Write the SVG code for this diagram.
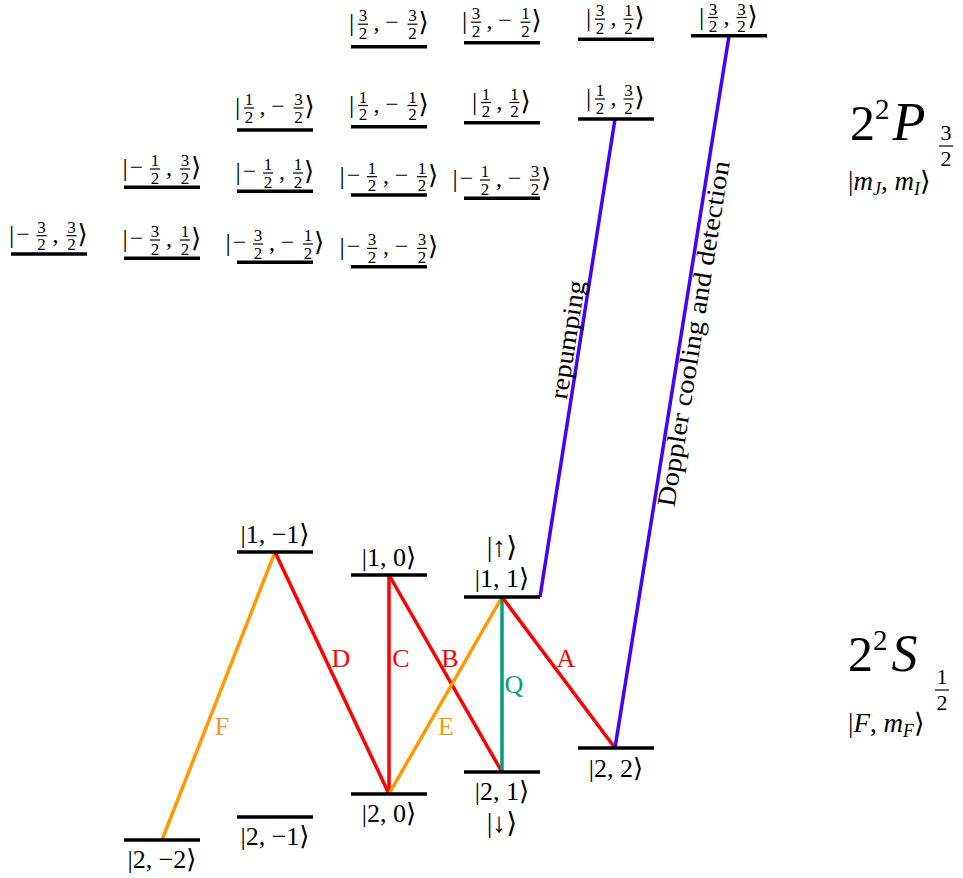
<svg xmlns="http://www.w3.org/2000/svg" width="963" height="878" viewBox="0 0 963 878">
<style>
text{font-family:"Liberation Serif","DejaVu Serif",serif;fill:#000}
.dl{font-family:"Liberation Serif","DejaVu Serif",serif;font-size:26px;text-anchor:middle}
.dr{font-family:"Liberation Serif","DejaVu Serif",serif;font-size:26px;text-anchor:start}
.m{font-family:"Liberation Serif","DejaVu Serif",serif;font-size:24px;text-anchor:middle}
.n{font-family:"Liberation Serif","DejaVu Serif",serif;font-size:17px;text-anchor:middle}
.k{font-family:"Liberation Serif","DejaVu Serif",serif;font-size:26px;text-anchor:middle}
.fb{stroke:#000;stroke-width:1.2}
.lvl{stroke:#000;stroke-width:3.5}
.tr{stroke-width:3.5;fill:none}
.red{stroke:#ff0000}.org{stroke:#ff9900}.teal{stroke:#00a07a}.blu{stroke:#4400ff}
.tl{font-family:"Liberation Serif","DejaVu Serif",serif;font-size:26px;text-anchor:middle}
.i{font-style:italic}
</style>
<rect width="963" height="878" fill="#fff"/>

<g id="connectors">
<line class="tr org" x1="162" y1="840" x2="275" y2="552"/>
<line class="tr red" x1="275" y1="552" x2="389" y2="794"/>
<line class="tr red" x1="389" y1="575" x2="389" y2="794"/>
<line class="tr red" x1="389" y1="575" x2="502" y2="772"/>
<line class="tr org" x1="502" y1="597" x2="389" y2="794"/>
<line class="tr teal" x1="502" y1="597" x2="502" y2="772"/>
<line class="tr red" x1="502" y1="597" x2="615" y2="748"/>
<line class="tr blu" x1="540" y1="597" x2="615" y2="119"/>
<line class="tr blu" x1="615" y1="748" x2="729" y2="36"/>
<text class="tl" x="222" y="735" style="fill:#ff9900">F</text>
<text class="tl" x="341" y="667" style="fill:#ff0000">D</text>
<text class="tl" x="401" y="667" style="fill:#ff0000">C</text>
<text class="tl" x="450" y="667" style="fill:#ff0000">B</text>
<text class="tl" x="446" y="735" style="fill:#ff9900">E</text>
<text class="tl" x="514" y="693" style="fill:#00a07a">Q</text>
<text class="tl" x="566" y="667" style="fill:#ff0000">A</text>
<text transform="translate(576,341) rotate(-81.2)" style="font-size:26px;text-anchor:middle" textLength="120" lengthAdjust="spacingAndGlyphs">repumping</text>
<text transform="translate(702,335) rotate(-80.9)" style="font-size:26px;text-anchor:middle" textLength="350" lengthAdjust="spacingAndGlyphs">Doppler cooling and detection</text>
</g>

<!-- P manifold m_J = 3/2 -->
<g id="P_3h_m3h"><line class="lvl" x1="351" y1="46.7" x2="427" y2="46.7"/>
<g transform="translate(349.5,24.2)"><text class="dl" x="2" y="7">|</text><text class="n" x="13.5" y="-3">3</text><line class="fb" x1="8.5" y1="0" x2="18.5" y2="0"/><text class="n" x="13.5" y="14.5">2</text><text class="m" x="27" y="6">,</text><text class="m" x="42.5" y="6">−</text><text class="n" x="63" y="-3">3</text><line class="fb" x1="58" y1="0" x2="68" y2="0"/><text class="n" x="63" y="14.5">2</text><text class="dr" x="69" y="7">⟩</text></g></g>
<g id="P_3h_m1h"><line class="lvl" x1="464" y1="42.7" x2="540" y2="42.7"/>
<g transform="translate(462.5,22.2)"><text class="dl" x="2" y="7">|</text><text class="n" x="13.5" y="-3">3</text><line class="fb" x1="8.5" y1="0" x2="18.5" y2="0"/><text class="n" x="13.5" y="14.5">2</text><text class="m" x="27" y="6">,</text><text class="m" x="42.5" y="6">−</text><text class="n" x="63" y="-3">1</text><line class="fb" x1="58" y1="0" x2="68" y2="0"/><text class="n" x="63" y="14.5">2</text><text class="dr" x="69" y="7">⟩</text></g></g>
<g id="P_3h_1h"><line class="lvl" x1="578" y1="39.3" x2="654" y2="39.3"/>
<g transform="translate(586.5,19.2)"><text class="dl" x="2" y="7">|</text><text class="n" x="13.5" y="-3">3</text><line class="fb" x1="8.5" y1="0" x2="18.5" y2="0"/><text class="n" x="13.5" y="14.5">2</text><text class="m" x="27" y="6">,</text><text class="n" x="42" y="-3">1</text><line class="fb" x1="37" y1="0" x2="47" y2="0"/><text class="n" x="42" y="14.5">2</text><text class="dr" x="48" y="7">⟩</text></g></g>
<g id="P_3h_3h"><line class="lvl" x1="691" y1="35.7" x2="767" y2="35.7"/>
<g transform="translate(699.5,17.5)"><text class="dl" x="2" y="7">|</text><text class="n" x="13.5" y="-3">3</text><line class="fb" x1="8.5" y1="0" x2="18.5" y2="0"/><text class="n" x="13.5" y="14.5">2</text><text class="m" x="27" y="6">,</text><text class="n" x="42" y="-3">3</text><line class="fb" x1="37" y1="0" x2="47" y2="0"/><text class="n" x="42" y="14.5">2</text><text class="dr" x="48" y="7">⟩</text></g></g>

<!-- m_J = 1/2 -->
<g id="P_1h_m3h"><line class="lvl" x1="237" y1="130" x2="313" y2="130"/>
<g transform="translate(235.5,108)"><text class="dl" x="2" y="7">|</text><text class="n" x="13.5" y="-3">1</text><line class="fb" x1="8.5" y1="0" x2="18.5" y2="0"/><text class="n" x="13.5" y="14.5">2</text><text class="m" x="27" y="6">,</text><text class="m" x="42.5" y="6">−</text><text class="n" x="63" y="-3">3</text><line class="fb" x1="58" y1="0" x2="68" y2="0"/><text class="n" x="63" y="14.5">2</text><text class="dr" x="69" y="7">⟩</text></g></g>
<g id="P_1h_m1h"><line class="lvl" x1="351" y1="126.7" x2="427" y2="126.7"/>
<g transform="translate(349.5,105.5)"><text class="dl" x="2" y="7">|</text><text class="n" x="13.5" y="-3">1</text><line class="fb" x1="8.5" y1="0" x2="18.5" y2="0"/><text class="n" x="13.5" y="14.5">2</text><text class="m" x="27" y="6">,</text><text class="m" x="42.5" y="6">−</text><text class="n" x="63" y="-3">1</text><line class="fb" x1="58" y1="0" x2="68" y2="0"/><text class="n" x="63" y="14.5">2</text><text class="dr" x="69" y="7">⟩</text></g></g>
<g id="P_1h_1h"><line class="lvl" x1="464" y1="122.7" x2="540" y2="122.7"/>
<g transform="translate(472.5,102.5)"><text class="dl" x="2" y="7">|</text><text class="n" x="13.5" y="-3">1</text><line class="fb" x1="8.5" y1="0" x2="18.5" y2="0"/><text class="n" x="13.5" y="14.5">2</text><text class="m" x="27" y="6">,</text><text class="n" x="42" y="-3">1</text><line class="fb" x1="37" y1="0" x2="47" y2="0"/><text class="n" x="42" y="14.5">2</text><text class="dr" x="48" y="7">⟩</text></g></g>
<g id="P_1h_3h"><line class="lvl" x1="578" y1="119" x2="654" y2="119"/>
<g transform="translate(586.5,99)"><text class="dl" x="2" y="7">|</text><text class="n" x="13.5" y="-3">1</text><line class="fb" x1="8.5" y1="0" x2="18.5" y2="0"/><text class="n" x="13.5" y="14.5">2</text><text class="m" x="27" y="6">,</text><text class="n" x="42" y="-3">3</text><line class="fb" x1="37" y1="0" x2="47" y2="0"/><text class="n" x="42" y="14.5">2</text><text class="dr" x="48" y="7">⟩</text></g></g>

<!-- m_J = -1/2 -->
<g id="P_m1h_3h"><line class="lvl" x1="124" y1="187.3" x2="200" y2="187.3"/>
<g transform="translate(123,169)"><text class="dl" x="2" y="7">|</text><text class="m" x="13.5" y="6">−</text><text class="n" x="32" y="-3">1</text><line class="fb" x1="27" y1="0" x2="37" y2="0"/><text class="n" x="32" y="14.5">2</text><text class="m" x="46" y="6">,</text><text class="n" x="62" y="-3">3</text><line class="fb" x1="57" y1="0" x2="67" y2="0"/><text class="n" x="62" y="14.5">2</text><text class="dr" x="68" y="7">⟩</text></g></g>
<g id="P_m1h_1h"><line class="lvl" x1="237" y1="191.3" x2="313" y2="191.3"/>
<g transform="translate(236,173)"><text class="dl" x="2" y="7">|</text><text class="m" x="13.5" y="6">−</text><text class="n" x="32" y="-3">1</text><line class="fb" x1="27" y1="0" x2="37" y2="0"/><text class="n" x="32" y="14.5">2</text><text class="m" x="46" y="6">,</text><text class="n" x="62" y="-3">1</text><line class="fb" x1="57" y1="0" x2="67" y2="0"/><text class="n" x="62" y="14.5">2</text><text class="dr" x="68" y="7">⟩</text></g></g>
<g id="P_m1h_m1h"><line class="lvl" x1="351" y1="195" x2="427" y2="195"/>
<g transform="translate(340,176.7)"><text class="dl" x="2" y="7">|</text><text class="m" x="13.5" y="6">−</text><text class="n" x="32" y="-3">1</text><line class="fb" x1="27" y1="0" x2="37" y2="0"/><text class="n" x="32" y="14.5">2</text><text class="m" x="46" y="6">,</text><text class="m" x="61.5" y="6">−</text><text class="n" x="82" y="-3">1</text><line class="fb" x1="77" y1="0" x2="87" y2="0"/><text class="n" x="82" y="14.5">2</text><text class="dr" x="88" y="7">⟩</text></g></g>
<g id="P_m1h_m3h"><line class="lvl" x1="464" y1="198.3" x2="540" y2="198.3"/>
<g transform="translate(453,180)"><text class="dl" x="2" y="7">|</text><text class="m" x="13.5" y="6">−</text><text class="n" x="32" y="-3">1</text><line class="fb" x1="27" y1="0" x2="37" y2="0"/><text class="n" x="32" y="14.5">2</text><text class="m" x="46" y="6">,</text><text class="m" x="61.5" y="6">−</text><text class="n" x="82" y="-3">3</text><line class="fb" x1="77" y1="0" x2="87" y2="0"/><text class="n" x="82" y="14.5">2</text><text class="dr" x="88" y="7">⟩</text></g></g>

<!-- m_J = -3/2 -->
<g id="P_m3h_3h"><line class="lvl" x1="11" y1="254" x2="87" y2="254"/>
<g transform="translate(9.5,235.7)"><text class="dl" x="2" y="7">|</text><text class="m" x="13.5" y="6">−</text><text class="n" x="32" y="-3">3</text><line class="fb" x1="27" y1="0" x2="37" y2="0"/><text class="n" x="32" y="14.5">2</text><text class="m" x="46" y="6">,</text><text class="n" x="62" y="-3">3</text><line class="fb" x1="57" y1="0" x2="67" y2="0"/><text class="n" x="62" y="14.5">2</text><text class="dr" x="68" y="7">⟩</text></g></g>
<g id="P_m3h_1h"><line class="lvl" x1="124" y1="258.3" x2="200" y2="258.3"/>
<g transform="translate(123,240)"><text class="dl" x="2" y="7">|</text><text class="m" x="13.5" y="6">−</text><text class="n" x="32" y="-3">3</text><line class="fb" x1="27" y1="0" x2="37" y2="0"/><text class="n" x="32" y="14.5">2</text><text class="m" x="46" y="6">,</text><text class="n" x="62" y="-3">1</text><line class="fb" x1="57" y1="0" x2="67" y2="0"/><text class="n" x="62" y="14.5">2</text><text class="dr" x="68" y="7">⟩</text></g></g>
<g id="P_m3h_m1h"><line class="lvl" x1="237" y1="262.3" x2="313" y2="262.3"/>
<g transform="translate(226,244)"><text class="dl" x="2" y="7">|</text><text class="m" x="13.5" y="6">−</text><text class="n" x="32" y="-3">3</text><line class="fb" x1="27" y1="0" x2="37" y2="0"/><text class="n" x="32" y="14.5">2</text><text class="m" x="46" y="6">,</text><text class="m" x="61.5" y="6">−</text><text class="n" x="82" y="-3">1</text><line class="fb" x1="77" y1="0" x2="87" y2="0"/><text class="n" x="82" y="14.5">2</text><text class="dr" x="88" y="7">⟩</text></g></g>
<g id="P_m3h_m3h"><line class="lvl" x1="351" y1="266.7" x2="427" y2="266.7"/>
<g transform="translate(340,248.4)"><text class="dl" x="2" y="7">|</text><text class="m" x="13.5" y="6">−</text><text class="n" x="32" y="-3">3</text><line class="fb" x1="27" y1="0" x2="37" y2="0"/><text class="n" x="32" y="14.5">2</text><text class="m" x="46" y="6">,</text><text class="m" x="61.5" y="6">−</text><text class="n" x="82" y="-3">3</text><line class="fb" x1="77" y1="0" x2="87" y2="0"/><text class="n" x="82" y="14.5">2</text><text class="dr" x="88" y="7">⟩</text></g></g>

<!-- S manifold -->
<g id="S_1_m1"><line class="lvl" x1="237" y1="552" x2="313" y2="552"/><text class="k" x="275" y="543">|1, −1⟩</text></g>
<g id="S_1_0"><line class="lvl" x1="351" y1="575" x2="427" y2="575"/><text class="k" x="389" y="566">|1, 0⟩</text></g>
<g id="S_1_1"><line class="lvl" x1="464" y1="597" x2="540" y2="597"/><text class="k" x="502" y="587">|1, 1⟩</text><text class="k" x="502" y="556" style="font-size:28px">|↑⟩</text></g>
<g id="S_2_m2"><line class="lvl" x1="124" y1="840" x2="200" y2="840"/><text class="k" x="162" y="868">|2, −2⟩</text></g>
<g id="S_2_m1"><line class="lvl" x1="237" y1="817" x2="313" y2="817"/><text class="k" x="275" y="845">|2, −1⟩</text></g>
<g id="S_2_0"><line class="lvl" x1="351" y1="794" x2="427" y2="794"/><text class="k" x="389" y="822">|2, 0⟩</text></g>
<g id="S_2_1"><line class="lvl" x1="464" y1="772" x2="540" y2="772"/><text class="k" x="502" y="800">|2, 1⟩</text><text class="k" x="502" y="832" style="font-size:28px">|↓⟩</text></g>
<g id="S_2_2"><line class="lvl" x1="578" y1="748" x2="654" y2="748"/><text class="k" x="616" y="777">|2, 2⟩</text></g>

<!-- manifold labels -->
<g id="label_P">
<text x="850" y="140" style="font-size:50px">2<tspan dy="-21" style="font-size:29px">2</tspan><tspan dy="21" dx="3" class="i" style="font-size:54px">P</tspan></text>
<text class="n" x="946" y="140" style="font-size:22px">3</text><line class="fb" x1="939" y1="146" x2="953" y2="146"/><text class="n" x="946" y="166" style="font-size:22px">2</text>
<text x="848" y="190" style="font-size:27px">|<tspan class="i">m</tspan><tspan class="i" dy="5" style="font-size:18px">J</tspan><tspan dy="-5">, </tspan><tspan class="i">m</tspan><tspan class="i" dy="5" style="font-size:18px">I</tspan><tspan dy="-5">⟩</tspan></text>
</g>
<g id="label_S">
<text x="848" y="671" style="font-size:50px">2<tspan dy="-21" style="font-size:29px">2</tspan><tspan dy="21" dx="4" class="i" style="font-size:52px">S</tspan></text>
<text class="n" x="942" y="684" style="font-size:22px">1</text><line class="fb" x1="935" y1="690" x2="949" y2="690"/><text class="n" x="942" y="710" style="font-size:22px">2</text>
<text x="848" y="732" style="font-size:27px">|<tspan class="i">F</tspan>, <tspan class="i">m</tspan><tspan class="i" dy="5" style="font-size:18px">F</tspan><tspan dy="-5">⟩</tspan></text>
</g>
</svg>
